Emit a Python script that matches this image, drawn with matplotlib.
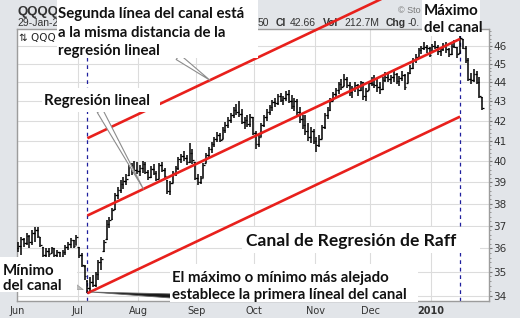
import matplotlib as mpl
mpl.use("Agg")
import matplotlib.pyplot as plt
from matplotlib.patches import Rectangle
from matplotlib.ticker import FixedLocator, NullFormatter


W, H = 520, 318

# x axis: one slot per trading day, Jun 1 2009 .. Jan 29 2010
months = ["Jun", "Jul", "Aug", "Sep", "Oct", "Nov", "Dec", "2010"]
month_start = [0, 22, 44, 65, 86, 108, 128, 150]
price_ticks = [34, 35, 36, 37, 38, 39, 40, 41, 42, 43, 44, 45, 46]

# daily QQQQ bars
opens = [
    36.00, 36.10, 36.40, 36.25, 36.55, 36.30, 36.70, 36.80, 36.50, 36.05,
    35.70, 35.90, 35.80, 36.00, 35.70, 35.85, 35.65, 35.85, 36.05, 36.20,
    36.35, 36.15, 36.05, 35.70, 35.25, 34.60, 34.30, 34.55, 34.45, 34.90,
    35.40, 35.90, 36.40, 37.10, 37.30, 37.75, 38.40, 38.65, 38.90, 39.05,
    39.35, 39.80, 39.50, 39.60, 39.55, 39.70, 39.85, 39.50, 39.25, 39.65,
    39.45, 39.15, 39.80, 39.60, 39.10, 38.60, 38.95, 39.45, 39.70, 40.10,
    40.25, 40.15, 39.95, 40.40, 39.95, 39.20, 39.00, 39.20, 39.90, 40.30,
    40.60, 40.85, 41.10, 41.30, 41.10, 41.55, 41.80, 42.05, 42.30, 42.55,
    42.45, 42.35, 41.95, 42.05, 41.85, 42.20, 41.40, 40.85, 41.20, 41.80,
    42.20, 42.45, 42.70, 42.95, 42.90, 43.30, 43.10, 43.20, 43.40, 43.05,
    42.75, 43.05, 42.45, 42.10, 41.80, 41.50, 41.20, 41.50, 41.00, 40.80,
    41.10, 41.70, 42.30, 42.55, 43.05, 43.40, 43.60, 43.90, 43.80, 44.20,
    43.85, 43.50, 43.70, 43.85, 43.60, 44.00, 43.30, 43.60, 43.95, 43.90,
    43.85, 43.75, 43.65, 44.15, 44.30, 44.20, 44.30, 44.45, 44.10, 44.25,
    44.40, 43.95, 44.50, 44.80, 45.20, 45.40, 45.75, 45.90, 45.95, 45.85,
    45.65, 46.00, 45.95, 45.70, 45.80, 46.05, 45.80, 45.55, 46.00, 45.95,
    45.60, 46.40, 45.90, 45.20, 44.20, 44.15, 44.45, 44.05, 43.25]
highs = [
    36.30, 36.51, 36.44, 36.67, 36.59, 36.81, 36.96, 36.96, 36.51, 36.07,
    36.00, 36.00, 36.07, 36.00, 35.95, 35.86, 35.93, 36.15, 36.30, 36.44,
    36.37, 36.59, 36.07, 35.79, 35.28, 34.65, 34.79, 34.86, 35.00, 35.50,
    35.63, 36.37, 37.26, 37.41, 37.79, 38.50, 38.79, 39.10, 39.25, 39.40,
    39.95, 39.90, 40.00, 39.95, 39.80, 40.00, 39.95, 39.60, 39.75, 39.85,
    39.55, 39.90, 39.95, 39.70, 39.10, 39.05, 39.55, 39.75, 40.20, 40.35,
    40.50, 40.30, 40.90, 40.60, 39.95, 39.40, 39.30, 39.90, 40.40, 40.70,
    40.95, 41.20, 41.45, 41.40, 41.70, 41.95, 42.20, 42.40, 42.70, 42.85,
    43.00, 42.60, 42.20, 42.30, 42.35, 42.20, 41.50, 41.30, 41.90, 42.30,
    42.60, 42.80, 43.10, 43.20, 43.40, 43.45, 43.30, 43.55, 43.60, 43.35,
    43.20, 43.15, 42.70, 42.30, 42.30, 41.90, 41.70, 41.60, 41.20, 41.30,
    41.80, 42.40, 42.70, 43.20, 43.50, 43.70, 44.00, 44.20, 44.45, 44.30,
    44.05, 43.80, 44.00, 43.90, 44.10, 44.00, 43.70, 44.10, 44.30, 44.40,
    44.20, 44.00, 44.30, 44.55, 44.50, 44.40, 44.60, 44.50, 44.35, 44.60,
    44.45, 44.55, 44.95, 45.30, 45.55, 45.85, 46.00, 46.20, 46.05, 45.95,
    46.10, 46.25, 46.05, 45.95, 46.15, 46.20, 45.90, 46.10, 46.30, 45.95,
    46.55, 46.40, 46.00, 45.30, 44.50, 44.70, 44.60, 44.30, 43.25]
lows = [
    35.86, 35.71, 36.07, 36.15, 36.00, 36.15, 36.30, 36.44, 36.07, 35.50,
    35.57, 35.63, 35.79, 35.57, 35.60, 35.50, 35.63, 35.71, 35.93, 36.00,
    36.00, 36.15, 35.57, 35.21, 34.65, 34.10, 34.20, 34.37, 34.37, 34.65,
    35.07, 35.86, 36.37, 36.89, 37.26, 37.70, 38.20, 38.50, 38.70, 38.85,
    39.30, 39.35, 39.45, 39.40, 39.30, 39.45, 39.40, 39.10, 39.20, 39.35,
    39.05, 39.15, 39.50, 39.20, 38.45, 38.40, 38.95, 39.30, 39.60, 39.90,
    40.00, 39.80, 39.90, 39.85, 39.10, 38.85, 38.90, 39.20, 39.90, 40.20,
    40.40, 40.70, 40.95, 40.95, 41.10, 41.40, 41.65, 41.90, 42.15, 42.30,
    42.20, 41.85, 41.60, 41.70, 41.70, 41.30, 40.60, 40.70, 41.20, 41.70,
    42.00, 42.30, 42.50, 42.70, 42.80, 42.95, 42.80, 43.00, 42.90, 42.60,
    42.50, 42.30, 41.90, 41.60, 41.30, 41.00, 40.90, 40.85, 40.45, 40.70,
    41.10, 41.60, 42.10, 42.50, 43.00, 43.20, 43.40, 43.60, 43.80, 43.70,
    43.30, 43.20, 43.50, 43.30, 43.55, 43.10, 43.05, 43.60, 43.80, 43.70,
    43.50, 43.40, 43.60, 44.00, 44.00, 43.90, 44.05, 43.90, 43.80, 44.10,
    43.60, 43.95, 44.45, 44.75, 45.05, 45.40, 45.55, 45.75, 45.60, 45.40,
    45.65, 45.80, 45.50, 45.45, 45.70, 45.60, 45.35, 45.50, 45.85, 45.30,
    45.60, 45.80, 45.05, 44.10, 43.90, 44.00, 43.90, 43.20, 42.55]
closes = [
    36.10, 36.40, 36.25, 36.55, 36.30, 36.70, 36.80, 36.55, 36.15, 35.70,
    35.90, 35.75, 36.00, 35.70, 35.85, 35.60, 35.85, 36.05, 36.20, 36.35,
    36.10, 36.50, 35.70, 35.30, 34.80, 34.30, 34.55, 34.45, 34.90, 35.40,
    35.55, 36.30, 37.10, 37.25, 37.70, 38.40, 38.65, 38.90, 39.05, 39.15,
    39.80, 39.50, 39.60, 39.55, 39.70, 39.85, 39.50, 39.25, 39.65, 39.45,
    39.15, 39.80, 39.60, 39.30, 38.60, 38.95, 39.45, 39.70, 40.10, 40.25,
    40.15, 39.95, 40.40, 40.05, 39.20, 39.00, 39.20, 39.80, 40.30, 40.60,
    40.85, 41.10, 41.30, 41.05, 41.55, 41.80, 42.05, 42.30, 42.55, 42.45,
    42.35, 41.95, 42.05, 41.85, 42.20, 41.40, 40.85, 41.20, 41.80, 42.20,
    42.45, 42.70, 42.95, 42.90, 43.30, 43.10, 43.20, 43.40, 43.05, 42.75,
    43.05, 42.45, 42.10, 41.80, 41.50, 41.20, 41.50, 41.00, 40.80, 41.10,
    41.70, 42.30, 42.55, 43.05, 43.40, 43.60, 43.90, 43.75, 44.20, 43.85,
    43.50, 43.70, 43.85, 43.60, 44.00, 43.30, 43.55, 43.95, 43.90, 43.85,
    43.75, 43.65, 44.15, 44.30, 44.20, 44.30, 44.45, 44.10, 44.25, 44.40,
    43.75, 44.50, 44.80, 45.20, 45.40, 45.75, 45.90, 45.95, 45.85, 45.50,
    46.00, 45.95, 45.70, 45.80, 46.05, 45.80, 45.55, 46.00, 45.95, 45.55,
    46.45, 45.90, 45.20, 44.20, 44.15, 44.45, 44.05, 43.30, 42.66]

# Raff channel: from the July low to the January high
channel_x = [25, 160]
channel_low = [34.10, 42.22]
channel_mid = [37.46, 46.38]
channel_high = [41.13, 50.92]

RED = "#e8201c"
NAVY = "#1f1f9e"
ANNOT_FONT = "Lato"
HEAD_FONT = "Liberation Sans"


def fx(x):
    return x / W


def fy(y):
    return 1 - y / H


def white_box(fig, x0, y0, x1, y1):
    fig.add_artist(Rectangle((fx(x0), fy(y1)), fx(x1) - fx(x0), fy(y0) - fy(y1),
                             transform=fig.transFigure, facecolor="white",
                             edgecolor="none", zorder=5))


def box_text(fig, x, y, s, size=10.8):
    fig.text(fx(x), fy(y), s, fontsize=size, fontweight="bold",
             family=ANNOT_FONT, color="#111111", va="baseline", ha="left",
             zorder=6)


def head_text(fig, x, y, s, bold=False, size=7.5, color="#333333"):
    fig.text(fx(x), fy(y), s, fontsize=size, family=HEAD_FONT, color=color,
             fontweight="bold" if bold else "normal", zorder=-1)


fig = plt.figure(figsize=(W / 100, H / 100), dpi=100, facecolor="#e2e5e9")
ax = fig.add_axes([fx(17), fy(300.7), (489 - 17) / W, (300.7 - 29) / H])
ax.set_facecolor("white")
ax.set_yscale("log")
ax.set_xlim(-0.5, 170.5)
ax.set_ylim(33.795, 46.94)

# grid and axes
ax.yaxis.set_major_locator(FixedLocator(price_ticks))
ax.yaxis.set_major_formatter(mpl.ticker.FixedFormatter([str(p) for p in price_ticks]))
ax.yaxis.set_minor_locator(FixedLocator([p / 5 for p in range(170, 235)]))
ax.yaxis.set_minor_formatter(NullFormatter())
ax.set_xticks([m - 0.5 for m in month_start])
ax.set_xticklabels(months)
ax.xaxis.get_ticklabels()[-1].set_fontweight("bold")
ax.grid(True, which="major", color="#dcdcdc", lw=0.8)
ax.set_axisbelow(True)
ax.yaxis.tick_right()
ax.tick_params(axis="y", which="major", direction="out", length=2.5, width=0.8,
               color="#777777", labelsize=7.5, labelcolor="#333333", pad=0.5)
ax.tick_params(axis="y", which="minor", direction="out", length=1.2, width=0.6,
               color="#888888")
ax.tick_params(axis="x", length=0, labelsize=7, labelcolor="#333333", pad=3.5)
for sp in ax.spines.values():
    sp.set_color("#9c9c9c")
    sp.set_linewidth(1.0)

# OHLC bars
days = range(len(closes))
ax.vlines(days, lows, highs, color="black", lw=1.1, zorder=3)
ax.hlines(opens, [d - 0.6 for d in days], days, color="black", lw=0.9, zorder=3)
ax.hlines(closes, days, [d + 0.6 for d in days], color="black", lw=0.9, zorder=3)

# channel lines
ax.plot(channel_x, channel_low, color=RED, lw=1.9, solid_capstyle="butt", zorder=4)
ax.plot(channel_x, channel_mid, color=RED, lw=1.9, solid_capstyle="butt", zorder=4)
ax.plot(channel_x, channel_high, color=RED, lw=1.9, solid_capstyle="butt",
        zorder=4, clip_on=False)
for cx in channel_x:
    ax.axvline(cx, color=NAVY, lw=0.9, ls=(0, (3, 3)), zorder=2)

# header, only the parts the note boxes leave visible
head_text(fig, 17, 15, "QQQQ", bold=True, size=9.5)
head_text(fig, 17, 26, "29-Jan-2")
head_text(fig, 258, 26, "50")
head_text(fig, 276, 26, "Cl", bold=True)
head_text(fig, 290, 26, "42.66")
head_text(fig, 323, 26, "Vol", bold=True)
head_text(fig, 344, 26, "212.7M")
head_text(fig, 386, 26, "Chg", bold=True)
head_text(fig, 408, 26, "-0.")
head_text(fig, 398, 13, "\u00a9 Sto", size=6.5, color="#777777")
ax.text(0.004, 0.985, "\u21c5 QQQ", transform=ax.transAxes,
        fontsize=7.5, family="DejaVu Sans", color="#222222", va="top", zorder=3)

# callouts
arrow_kw = dict(arrowstyle="wedge,tail_width=0.45,shrink_factor=0.5",
                fc="white", ec="#8c8c8c", lw=0.8, shrinkA=0, shrinkB=0)
ax.annotate("", xy=(69.4, 44.12), xytext=(fx(178), fy(57)),
            textcoords="figure fraction", arrowprops=arrow_kw,
            annotation_clip=False, zorder=4)
ax.annotate("", xy=(45.3, 38.68), xytext=(fx(100), fy(111)),
            textcoords="figure fraction", arrowprops=arrow_kw,
            annotation_clip=False, zorder=4)
ax.annotate("", xy=(26.5, 34.15), xytext=(fx(172), fy(296)),
            textcoords="figure fraction",
            arrowprops=dict(arrowstyle="wedge,tail_width=0.3,shrink_factor=0.5",
                            fc="#1a1a1a", ec="#666666", lw=0.6,
                            shrinkA=0, shrinkB=0),
            annotation_clip=False, zorder=4)
ax.annotate("", xy=(23.5, 34.25), xytext=(fx(76), fy(287)),
            textcoords="figure fraction",
            arrowprops=dict(arrowstyle="wedge,tail_width=0.35,shrink_factor=0.5",
                            fc="#bbbbbb", ec="#999999", lw=0.5,
                            shrinkA=0, shrinkB=0),
            annotation_clip=False, zorder=4)

# note boxes
white_box(fig, 57, 0, 258, 58)
box_text(fig, 58, 18, "Segunda línea del canal está")
box_text(fig, 58, 37, "a la misma distancia de la")
box_text(fig, 58, 55, "regresión lineal")

white_box(fig, 42, 88, 160, 112)
box_text(fig, 44, 105, "Regresión lineal")

white_box(fig, 422, 0, 480, 36)
box_text(fig, 424, 15, "Máximo")
box_text(fig, 424, 32, "del canal")

white_box(fig, 242, 227, 480, 253)
box_text(fig, 246, 246, "Canal de Regresión de Raff", size=12.6)

white_box(fig, 170, 264, 418, 302)
box_text(fig, 172, 282, "El máximo o mínimo más alejado")
box_text(fig, 172, 299, "establece la primera líneal del canal")

white_box(fig, 0, 257, 77, 292)
box_text(fig, 3, 275, "Mínimo")
box_text(fig, 3, 290, "del canal")

fig.savefig("out.png", dpi=100, facecolor=fig.get_facecolor())
